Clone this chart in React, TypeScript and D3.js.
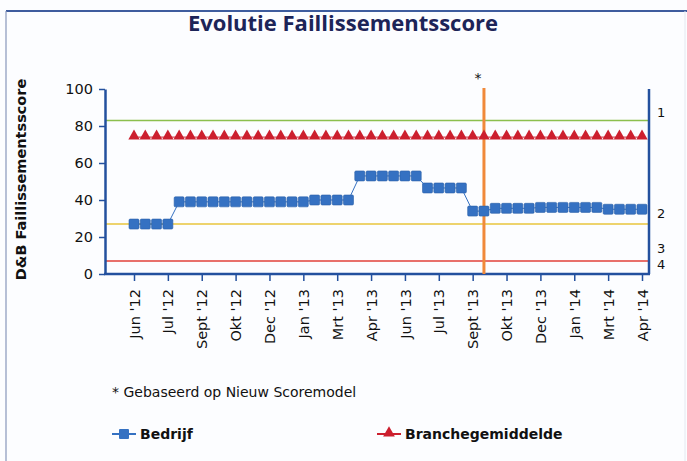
import { useEffect, useRef } from "react";
import * as d3 from "d3";

// Chart values
const tickLabels = ["Jun '12", "Jul '12", "Sept '12", "Okt '12", "Dec '12", "Jan '13", "Mrt '13", "Apr '13",
  "Jun '13", "Jul '13", "Sept '13", "Okt '13", "Dec '13", "Jan '14", "Mrt '14", "Apr '14"];
const bedrijf = [27, 27, 27, 27,
  39, 39, 39, 39, 39, 39, 39, 39, 39, 39, 39, 39,
  40, 40, 40, 40,
  53, 53, 53, 53, 53, 53,
  46.5, 46.5, 46.5, 46.5,
  34, 34,
  35.5, 35.5, 35.5, 35.5,
  36, 36, 36, 36, 36, 36,
  35, 35, 35, 35];
const branche = bedrijf.map(() => 74);
const refLines = [
  { value: 83, color: "#8cbf4e" },
  { value: 27, color: "#e8c43c" },
  { value: 7, color: "#e2403a" },
];
const rightLabels = [
  { label: "1", value: 87.5 },
  { label: "2", value: 32.5 },
  { label: "3", value: 13.6 },
  { label: "4", value: 5 },
];
const newModelIndex = 31;
const yTicks = [0, 20, 40, 60, 80, 100];

const W = 687, H = 461;
const axisColor = "#23509e";
const blue = "#3571c2";
const red = "#cc1f2e";
const font = "DejaVu Sans, Verdana, sans-serif";

export default function App() {
  const ref = useRef<SVGSVGElement>(null);

  useEffect(() => {
    const svg = d3.select(ref.current);
    svg.selectAll("*").remove();

    const left = 105, right = 649, top = 89, bottom = 274;
    const x = d3.scaleLinear().domain([0, bedrijf.length - 1]).range([134, 642]);
    const y = d3.scaleLinear().domain([0, 100]).range([bottom, top]);

    svg.append("rect").attr("width", W).attr("height", H).attr("fill", "#fcfdff");

    // frame
    svg.append("line").attr("x1", 6).attr("x2", W).attr("y1", 11).attr("y2", 11)
      .attr("stroke", "#3e5c9e").attr("stroke-width", 2);
    svg.append("line").attr("x1", 6).attr("x2", 6).attr("y1", 11).attr("y2", H)
      .attr("stroke", "#8797bb").attr("stroke-width", 1.2);
    svg.append("line").attr("x1", 685).attr("x2", 685).attr("y1", 11).attr("y2", H)
      .attr("stroke", "#e4e8f0").attr("stroke-width", 1);

    // title
    svg.append("text").attr("x", 343).attr("y", 31).attr("text-anchor", "middle")
      .attr("font-family", "Open Sans, sans-serif").attr("font-weight", 700).attr("font-size", 22)
      .attr("fill", "#1c2458").text("Evolutie Faillissementsscore");

    // y title
    svg.append("text").attr("transform", `translate(26,${(top + bottom) / 2 - 2}) rotate(-90)`)
      .attr("text-anchor", "middle").attr("font-family", font).attr("font-weight", 700)
      .attr("font-size", 14.5).attr("fill", "#111").text("D&B Faillissementsscore");

    // reference lines
    svg.selectAll("line.ref").data(refLines).join("line").attr("class", "ref")
      .attr("x1", left).attr("x2", right)
      .attr("y1", d => y(d.value)).attr("y2", d => y(d.value))
      .attr("stroke", d => d.color).attr("stroke-width", 1.5);

    // left axis
    const yAxis = svg.append("g").attr("transform", `translate(${left},0)`)
      .call(d3.axisLeft(y).tickValues(yTicks).tickSize(6).tickSizeOuter(0));
    yAxis.select(".domain").attr("stroke", axisColor).attr("stroke-width", 2.5);
    yAxis.selectAll(".tick line").attr("stroke", axisColor).attr("stroke-width", 1.5);
    yAxis.selectAll(".tick text").attr("font-family", font).attr("font-size", 14.5)
      .attr("fill", "#111").attr("x", -12);

    // x axis
    const tickIdx = tickLabels.map((_, i) => i * 3);
    const xAxis = svg.append("g").attr("transform", `translate(0,${bottom})`)
      .call(d3.axisBottom(x).tickValues(tickIdx).tickSize(7).tickSizeOuter(0)
        .tickFormat((_, i) => tickLabels[i]));
    xAxis.select(".domain").remove();
    svg.append("line").attr("x1", left - 1).attr("x2", right + 1).attr("y1", bottom).attr("y2", bottom)
      .attr("stroke", axisColor).attr("stroke-width", 2.5);
    xAxis.selectAll(".tick line").attr("stroke", axisColor).attr("stroke-width", 1.5);
    xAxis.selectAll(".tick text").attr("font-family", font).attr("font-size", 14.5)
      .attr("fill", "#111").attr("text-anchor", "end")
      .attr("transform", "rotate(-90)").attr("x", -15).attr("y", 0).attr("dy", "0.35em");

    // right axis
    svg.append("line").attr("x1", right).attr("x2", right).attr("y1", top).attr("y2", bottom)
      .attr("stroke", axisColor).attr("stroke-width", 2.5);
    svg.selectAll("text.rl").data(rightLabels).join("text").attr("class", "rl")
      .attr("x", 657).attr("y", d => y(d.value)).attr("dy", "0.35em")
      .attr("font-family", font).attr("font-size", 13).attr("fill", "#111").text(d => d.label);

    // new score model marker
    svg.append("line").attr("x1", x(newModelIndex)).attr("x2", x(newModelIndex))
      .attr("y1", top - 1).attr("y2", bottom)
      .attr("stroke", "#f0893a").attr("stroke-width", 3);
    svg.append("text").attr("x", x(newModelIndex) - 6).attr("y", 83).attr("text-anchor", "middle")
      .attr("font-family", font).attr("font-size", 14).attr("fill", "#111").text("*");

    // series lines
    const line = d3.line<number>().x((_, i) => x(i)).y(d => y(d));
    svg.append("path").datum(branche).attr("d", line).attr("fill", "none")
      .attr("stroke", red).attr("stroke-width", 1);
    svg.append("path").datum(bedrijf).attr("d", line).attr("fill", "none")
      .attr("stroke", blue).attr("stroke-width", 1);

    const tri = d3.symbol().type(d3.symbolTriangle).size(56);
    svg.selectAll("path.tri").data(branche).join("path").attr("class", "tri")
      .attr("d", tri).attr("transform", (d, i) => `translate(${x(i)},${y(d) - 1})`)
      .attr("fill", red);

    const s = 10;
    svg.selectAll("rect.sq").data(bedrijf).join("rect").attr("class", "sq")
      .attr("x", (_, i) => x(i) - s / 2).attr("y", d => y(d) - s / 2)
      .attr("width", s).attr("height", s).attr("rx", 1.2)
      .attr("fill", blue).attr("stroke", "#2a5fa8").attr("stroke-width", 0.6);

    // footnote
    svg.append("text").attr("x", 112).attr("y", 397).attr("font-family", font)
      .attr("font-size", 14).attr("fill", "#111").text("* Gebaseerd op Nieuw Scoremodel");

    // legend
    const legend = [
      { name: "Bedrijf", color: blue, x: 112, shape: "square" },
      { name: "Branchegemiddelde", color: red, x: 377, shape: "triangle" },
    ];
    const lg = svg.selectAll("g.lg").data(legend).join("g").attr("class", "lg")
      .attr("transform", d => `translate(${d.x},434)`);
    lg.append("line").attr("x1", 0).attr("x2", 24).attr("stroke", d => d.color).attr("stroke-width", 2);
    lg.each(function (d) {
      const g = d3.select(this);
      if (d.shape === "square") {
        g.append("rect").attr("x", 7).attr("y", -5).attr("width", 10).attr("height", 10)
          .attr("rx", 1).attr("fill", d.color);
      } else {
        g.append("path").attr("d", d3.symbol().type(d3.symbolTriangle).size(60)())
          .attr("transform", "translate(12,-1)").attr("fill", d.color);
      }
    });
    lg.append("text").attr("x", 28).attr("y", 5).attr("font-family", font).attr("font-weight", 700)
      .attr("font-size", 14).attr("fill", "#111").text(d => d.name);
  }, []);

  return (
    <svg ref={ref} width={W} height={H}
      style={{ position: "absolute", left: 0, top: 0, display: "block" }} />
  );
}
